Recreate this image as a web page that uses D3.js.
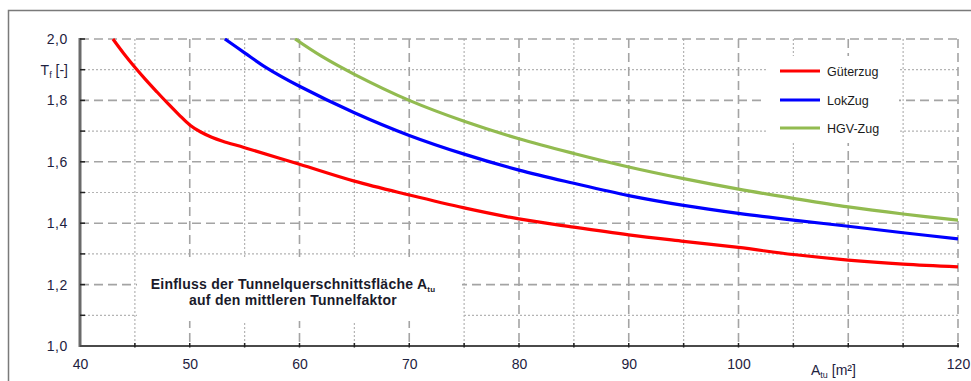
<!DOCTYPE html>
<html>
<head>
<meta charset="utf-8">
<script src="https://cdn.jsdelivr.net/npm/d3@7"></script>
<style>
  html, body { margin: 0; padding: 0; background: #fff; }
  svg { display: block; font-family: "Liberation Sans", Arial, sans-serif; }
</style>
</head>
<body>
<svg id="chart" width="971" height="381"></svg>
<script>
// ---- data ----
const xTickLabels = [40, 50, 60, 70, 80, 90, 100, 120];
const yTickLabels = [1.0, 1.2, 1.4, 1.6, 1.8, 2.0];

const seriesNames = ["Güterzug", "LokZug", "HGV-Zug"];
const seriesColors = ["#ff0000", "#0000ff", "#92bb50"];

const gueterzugA = [43.0, 44.0, 45.0, 46.0, 47.0, 48.0, 49.0, 50.0, 51.0, 52.0, 53.0, 55.0, 60.0, 65.0, 70.0, 75.0, 80.0, 85.0, 90.0, 95.0, 100.0, 105.0, 110.0, 115.0, 120.0];
const gueterzugT = [2.0, 1.952, 1.908, 1.867, 1.828, 1.790, 1.754, 1.720, 1.697, 1.680, 1.667, 1.646, 1.592, 1.537, 1.492, 1.450, 1.414, 1.387, 1.362, 1.341, 1.321, 1.298, 1.280, 1.267, 1.258];

const lokzugA = [53.2, 55.0, 57.0, 60.0, 65.0, 70.0, 75.0, 80.0, 85.0, 90.0, 95.0, 100.0, 105.0, 110.0, 115.0, 120.0];
const lokzugT = [2.0, 1.955, 1.906, 1.846, 1.760, 1.686, 1.625, 1.573, 1.530, 1.490, 1.458, 1.432, 1.410, 1.390, 1.369, 1.349];

const hgvA = [59.6, 62.0, 65.0, 70.0, 75.0, 80.0, 85.0, 90.0, 95.0, 100.0, 105.0, 110.0, 115.0, 120.0];
const hgvT = [2.0, 1.944, 1.885, 1.800, 1.732, 1.675, 1.627, 1.583, 1.545, 1.511, 1.481, 1.453, 1.430, 1.410];

const seriesA = [gueterzugA, lokzugA, hgvA];
const seriesT = [gueterzugT, lokzugT, hgvT];

// ---- layout ----
const svg = d3.select("#chart");
const x = d3.scaleLinear().domain([40, 120]).range([80, 958]);
const y = d3.scaleLinear().domain([1.0, 2.0]).range([346, 39]);
const fmt = v => d3.format(".1f")(v).replace(".", ",");

// outer frame
svg.append("path")
  .attr("d", "M8.5,381 L8.5,10.5 L971,10.5")
  .attr("fill", "none").attr("stroke", "#7a7a7a").attr("stroke-width", 1.5);

// grid
const grid = svg.append("g");
const minorX = d3.range(45, 120, 10);
const majorX = d3.range(50, 121, 10);
const minorY = d3.range(1.1, 2.0, 0.2);
const majorY = d3.range(1.2, 2.01, 0.2);

grid.selectAll(".mx").data(minorX).join("line")
  .attr("x1", d => x(d)).attr("x2", d => x(d)).attr("y1", y(2)).attr("y2", y(1))
  .attr("stroke", "#b4b4b4").attr("stroke-width", 1.2).attr("stroke-dasharray", "2,2");
grid.selectAll(".my").data(minorY).join("line")
  .attr("y1", d => y(d)).attr("y2", d => y(d)).attr("x1", x(40)).attr("x2", x(120))
  .attr("stroke", "#b4b4b4").attr("stroke-width", 1.2).attr("stroke-dasharray", "2,2");
grid.selectAll(".Mx").data(majorX).join("line")
  .attr("x1", d => x(d)).attr("x2", d => x(d)).attr("y1", y(2)).attr("y2", y(1))
  .attr("stroke", "#a4a4a4").attr("stroke-width", 1.6).attr("stroke-dasharray", "9,5");
grid.selectAll(".My").data(majorY).join("line")
  .attr("y1", d => y(d)).attr("y2", d => y(d)).attr("x1", x(40)).attr("x2", x(120))
  .attr("stroke", "#a4a4a4").attr("stroke-width", 1.6).attr("stroke-dasharray", "9,5");

// white boxes (annotation and legend) covering the grid
svg.append("rect").attr("x", 137).attr("y", 257).attr("width", 325).attr("height", 64).attr("fill", "#fff");
svg.append("rect").attr("x", 766).attr("y", 56).attr("width", 133).attr("height", 87).attr("fill", "#fff");

// axes lines
svg.append("line").attr("x1", x(40)).attr("x2", x(40)).attr("y1", y(2) - 1).attr("y2", y(1) + 1)
  .attr("stroke", "#6a6a6a").attr("stroke-width", 3);
svg.append("line").attr("x1", x(40)).attr("x2", x(120) + 1).attr("y1", y(1)).attr("y2", y(1))
  .attr("stroke", "#4a4a4a").attr("stroke-width", 2);

// tick marks
const ticks = svg.append("g");
ticks.selectAll(".ty").data(d3.range(1.1, 2.01, 0.1)).join("line")
  .attr("x1", x(40)).attr("x2", x(40) + 5).attr("y1", d => y(d)).attr("y2", d => y(d))
  .attr("stroke", "#222").attr("stroke-width", 1.5);
ticks.selectAll(".tx").data(d3.range(45, 121, 5)).join("line")
  .attr("x1", d => x(d)).attr("x2", d => x(d)).attr("y1", y(1) - 3).attr("y2", y(1) + 1.5)
  .attr("stroke", "#222").attr("stroke-width", 1.5);

// tick labels via d3 axes
const yAxis = svg.append("g").attr("transform", `translate(${x(40)},0)`)
  .call(d3.axisLeft(y).tickValues(yTickLabels).tickFormat(fmt).tickSize(0).tickPadding(12));
yAxis.select(".domain").remove();
yAxis.selectAll("text").attr("font-size", 14).attr("fill", "#1e2240")
  .attr("font-family", "Liberation Sans, Arial, sans-serif").attr("letter-spacing", 0.6);

const xAxis = svg.append("g").attr("transform", `translate(0,${y(1)})`)
  .call(d3.axisBottom(x).tickValues(xTickLabels).tickFormat(d3.format("d")).tickSize(0).tickPadding(13));
xAxis.select(".domain").remove();
xAxis.selectAll("text").attr("font-size", 14).attr("fill", "#1e2240")
  .attr("font-family", "Liberation Sans, Arial, sans-serif");

// axis titles
const yt = svg.append("text").attr("x", 68).attr("y", 75).attr("text-anchor", "end")
  .attr("font-size", 14).attr("fill", "#1e2240");
yt.append("tspan").text("T");
yt.append("tspan").attr("font-size", 9).attr("dy", 3).text("f");
yt.append("tspan").attr("dy", -3).text(" [-]");

const xt = svg.append("text").attr("x", 811).attr("y", 375)
  .attr("font-size", 14).attr("fill", "#1e2240");
xt.append("tspan").text("A");
xt.append("tspan").attr("font-size", 9).attr("dy", 3).text("tu");
xt.append("tspan").attr("dy", -3).text(" [m²]");

// curves
const line = d3.line().x(d => x(d[0])).y(d => y(d[1])).curve(d3.curveCatmullRom.alpha(0.5));
svg.append("clipPath").attr("id", "plotclip").append("rect")
  .attr("x", x(40)).attr("y", y(2) - 1).attr("width", x(120) - x(40)).attr("height", y(1) - y(2) + 2);
const curves = svg.append("g").attr("clip-path", "url(#plotclip)");
seriesNames.forEach((name, i) => {
  const pts = d3.zip(seriesA[i], seriesT[i]);
  curves.append("path").datum(pts).attr("d", line)
    .attr("fill", "none").attr("stroke", seriesColors[i]).attr("stroke-width", 3.2)
    .attr("stroke-linecap", "butt");
});

// legend
const legendY = [71, 100, 128];
seriesNames.forEach((name, i) => {
  svg.append("line").attr("x1", 780).attr("x2", 820).attr("y1", legendY[i]).attr("y2", legendY[i])
    .attr("stroke", seriesColors[i]).attr("stroke-width", 3.2);
  svg.append("text").attr("x", 827).attr("y", legendY[i] + 4.5)
    .attr("font-size", 12.5).attr("fill", "#1a1a1a").text(name);
});

// annotation
const ann = svg.append("g").attr("font-weight", "bold").attr("font-size", 14).attr("fill", "#1a1a2a")
  .attr("text-anchor", "middle").attr("letter-spacing", 0.25);
const l1 = ann.append("text").attr("x", 293).attr("y", 289);
l1.append("tspan").text("Einfluss der Tunnelquerschnittsfläche  A");
l1.append("tspan").attr("font-size", 8).attr("dy", 3).text("tu");
ann.append("text").attr("x", 293).attr("y", 305).text("auf den mittleren Tunnelfaktor");
</script>
</body>
</html>
